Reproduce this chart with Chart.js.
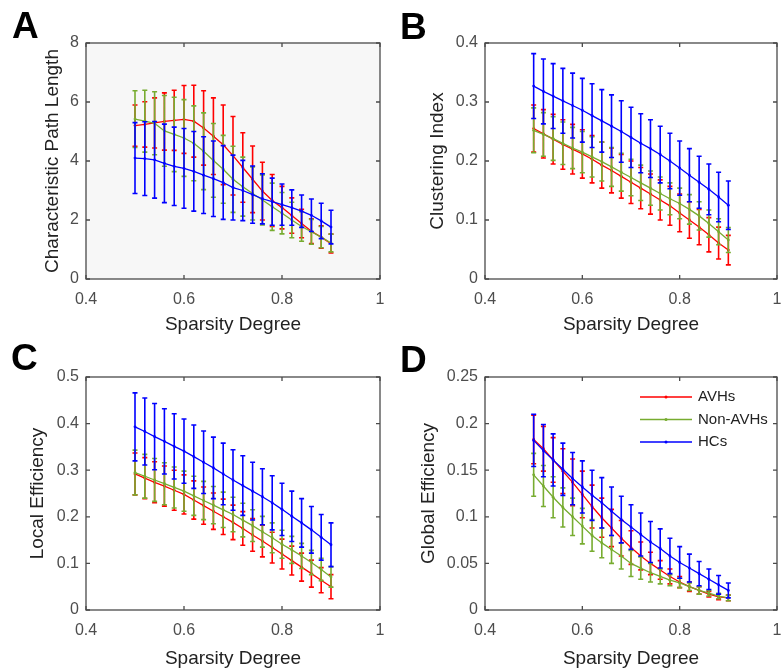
<!DOCTYPE html>
<html>
<head>
<meta charset="utf-8">
<script src="https://cdn.jsdelivr.net/npm/chart.js@4.4.1/dist/chart.umd.min.js"></script>
<style>
    body { margin: 0; background: #fff; }
    #wrap { position: relative; width: 781px; height: 668px; overflow: hidden; }
    canvas { position: absolute; }
    .letter { position: absolute; font: bold 37px "Liberation Sans", Arial, sans-serif; line-height: 1; color: #000; }
</style>
</head>
<body>
<div id="wrap">
    <canvas id="panelA" width="390" height="334" style="left:0;top:0"></canvas>
    <canvas id="panelB" width="391" height="334" style="left:390px;top:0"></canvas>
    <canvas id="panelC" width="390" height="334" style="left:0;top:334px"></canvas>
    <canvas id="panelD" width="391" height="334" style="left:390px;top:334px"></canvas>
    <div class="letter" style="left:12px;top:7px">A</div>
    <div class="letter" style="left:400px;top:8px">B</div>
    <div class="letter" style="left:11px;top:339px">C</div>
    <div class="letter" style="left:400px;top:341px">D</div>
</div>
<script>
const sparsity = [0.5, 0.52, 0.54, 0.56, 0.58, 0.6, 0.62, 0.64, 0.66, 0.68, 0.7, 0.72, 0.74, 0.76, 0.78, 0.8, 0.82, 0.84, 0.86, 0.88, 0.9];
const groupNames = ["AVHs", "Non-AVHs", "HCs"];
const xTicks = [0.4, 0.6, 0.8, 1];

// A - characteristic path length
const pathAvh = [5.2, 5.24, 5.29, 5.34, 5.38, 5.41, 5.35, 5.12, 4.84, 4.55, 4.18, 3.78, 3.38, 2.98, 2.66, 2.42, 2.15, 1.88, 1.62, 1.42, 1.2];
const pathAvhSd = [0.7, 0.77, 0.85, 0.97, 1.02, 1.15, 1.22, 1.26, 1.3, 1.35, 1.33, 1.18, 1.13, 0.98, 0.88, 0.72, 0.6, 0.48, 0.42, 0.38, 0.32];
const pathNon = [5.42, 5.35, 5.28, 5.02, 4.9, 4.78, 4.6, 4.33, 4.02, 3.72, 3.38, 3.13, 2.9, 2.68, 2.45, 2.23, 2.0, 1.78, 1.6, 1.42, 1.22];
const pathNonSd = [0.96, 1.05, 1.07, 1.2, 1.26, 1.3, 1.27, 1.3, 1.25, 1.15, 1.12, 1.0, 0.9, 0.85, 0.8, 0.7, 0.6, 0.5, 0.42, 0.36, 0.3];
const pathHc = [4.1, 4.08, 4.04, 3.92, 3.82, 3.75, 3.65, 3.52, 3.4, 3.27, 3.1, 3.0, 2.86, 2.72, 2.62, 2.52, 2.42, 2.3, 2.16, 1.97, 1.76];
const pathHcSd = [1.2, 1.25, 1.3, 1.33, 1.33, 1.35, 1.35, 1.3, 1.28, 1.25, 1.1, 1.02, 0.97, 0.85, 0.8, 0.7, 0.6, 0.55, 0.55, 0.6, 0.57];
const pathTicks = [0, 2, 4, 6, 8];

// B - clustering index
const clustAvh = [0.255, 0.246, 0.237, 0.228, 0.22, 0.212, 0.203, 0.193, 0.184, 0.174, 0.164, 0.154, 0.144, 0.134, 0.124, 0.112, 0.1, 0.088, 0.075, 0.061, 0.049];
const clustAvhSd = [0.04, 0.041, 0.042, 0.042, 0.042, 0.041, 0.04, 0.039, 0.038, 0.037, 0.036, 0.035, 0.034, 0.034, 0.033, 0.032, 0.031, 0.03, 0.029, 0.027, 0.025];
const clustNon = [0.252, 0.245, 0.238, 0.23, 0.222, 0.215, 0.207, 0.199, 0.19, 0.181, 0.172, 0.163, 0.154, 0.145, 0.136, 0.128, 0.118, 0.107, 0.094, 0.08, 0.066];
const clustNonSd = [0.038, 0.037, 0.037, 0.036, 0.035, 0.035, 0.034, 0.033, 0.033, 0.032, 0.031, 0.03, 0.029, 0.028, 0.027, 0.026, 0.025, 0.024, 0.023, 0.022, 0.021];
const clustHc = [0.327, 0.318, 0.31, 0.302, 0.294, 0.286, 0.277, 0.268, 0.259, 0.25, 0.24, 0.23, 0.221, 0.211, 0.2, 0.188, 0.176, 0.164, 0.152, 0.139, 0.125];
const clustHcSd = [0.055, 0.055, 0.055, 0.055, 0.055, 0.054, 0.054, 0.053, 0.053, 0.052, 0.051, 0.05, 0.049, 0.048, 0.047, 0.046, 0.045, 0.044, 0.043, 0.042, 0.041];
const clustTicks = [0, 0.1, 0.2, 0.3, 0.4];

// C - local efficiency
const localAvh = [0.292, 0.283, 0.274, 0.266, 0.257, 0.248, 0.236, 0.224, 0.212, 0.2, 0.188, 0.175, 0.161, 0.148, 0.134, 0.12, 0.106, 0.092, 0.078, 0.064, 0.05];
const localAvhSd = [0.045, 0.044, 0.044, 0.043, 0.043, 0.042, 0.041, 0.04, 0.039, 0.038, 0.037, 0.036, 0.035, 0.034, 0.033, 0.032, 0.031, 0.03, 0.029, 0.027, 0.026];
const localNon = [0.295, 0.287, 0.279, 0.271, 0.263, 0.255, 0.245, 0.235, 0.225, 0.215, 0.205, 0.193, 0.181, 0.168, 0.155, 0.141, 0.129, 0.116, 0.102, 0.087, 0.071];
const localNonSd = [0.048, 0.047, 0.046, 0.045, 0.044, 0.043, 0.042, 0.041, 0.04, 0.038, 0.037, 0.036, 0.034, 0.033, 0.032, 0.03, 0.029, 0.027, 0.026, 0.024, 0.022];
const localHc = [0.393, 0.383, 0.372, 0.362, 0.351, 0.341, 0.329, 0.317, 0.305, 0.292, 0.279, 0.267, 0.255, 0.243, 0.23, 0.216, 0.201, 0.187, 0.172, 0.156, 0.14];
const localHcSd = [0.073, 0.072, 0.071, 0.07, 0.07, 0.069, 0.068, 0.067, 0.066, 0.066, 0.065, 0.064, 0.062, 0.06, 0.058, 0.056, 0.054, 0.052, 0.05, 0.049, 0.047];
const localTicks = [0, 0.1, 0.2, 0.3, 0.4, 0.5];

// D - global efficiency
const globalAvh = [0.183, 0.173, 0.161, 0.149, 0.137, 0.124, 0.111, 0.099, 0.088, 0.077, 0.067, 0.058, 0.05, 0.043, 0.036, 0.03, 0.025, 0.021, 0.017, 0.014, 0.013];
const globalAvhSd = [0.026, 0.024, 0.024, 0.024, 0.025, 0.025, 0.023, 0.021, 0.02, 0.019, 0.018, 0.015, 0.012, 0.01, 0.008, 0.006, 0.005, 0.004, 0.003, 0.003, 0.003];
const globalNon = [0.145, 0.133, 0.121, 0.11, 0.1, 0.09, 0.08, 0.072, 0.065, 0.058, 0.05, 0.045, 0.04, 0.036, 0.032, 0.029, 0.025, 0.021, 0.018, 0.015, 0.013];
const globalNonSd = [0.023, 0.022, 0.022, 0.021, 0.02, 0.019, 0.017, 0.016, 0.015, 0.014, 0.014, 0.012, 0.01, 0.008, 0.006, 0.005, 0.004, 0.004, 0.003, 0.003, 0.003];
const globalHc = [0.182, 0.171, 0.161, 0.151, 0.141, 0.132, 0.123, 0.115, 0.106, 0.097, 0.089, 0.081, 0.073, 0.066, 0.058, 0.051, 0.045, 0.039, 0.033, 0.027, 0.021];
const globalHcSd = [0.028, 0.028, 0.028, 0.028, 0.028, 0.028, 0.027, 0.027, 0.026, 0.025, 0.024, 0.023, 0.022, 0.021, 0.019, 0.017, 0.015, 0.013, 0.011, 0.01, 0.008];
const globalTicks = [0, 0.05, 0.1, 0.15, 0.2, 0.25];

const colors = ["rgb(255, 0, 0)", "rgb(119, 172, 48)", "rgb(0, 0, 255)"];
const fontFamily = "'Liberation Sans', Arial, sans-serif";

// box round the plot with inward ticks on all four sides (matlab style)
const framePlugin = {
    id: "frame",
    beforeDraw(chart, args, opts) {
        if (!opts.fill) return;
        const a = chart.chartArea;
        chart.ctx.save();
        chart.ctx.fillStyle = opts.fill;
        chart.ctx.fillRect(a.left, a.top, a.right - a.left, a.bottom - a.top);
        chart.ctx.restore();
    },
    afterDatasetsDraw(chart) {
        const ctx = chart.ctx;
        const a = chart.chartArea;
        const tl = 4;
        ctx.save();
        ctx.strokeStyle = "#4a4a4a";
        ctx.lineWidth = 1.3;
        ctx.strokeRect(a.left, a.top, a.right - a.left, a.bottom - a.top);
        ctx.beginPath();
        for (let t of chart.scales.x.ticks) {
            let px = chart.scales.x.getPixelForValue(t.value);
            ctx.moveTo(px, a.bottom); ctx.lineTo(px, a.bottom - tl);
            ctx.moveTo(px, a.top); ctx.lineTo(px, a.top + tl);
        }
        for (let t of chart.scales.y.ticks) {
            let py = chart.scales.y.getPixelForValue(t.value);
            ctx.moveTo(a.left, py); ctx.lineTo(a.left + tl, py);
            ctx.moveTo(a.right, py); ctx.lineTo(a.right - tl, py);
        }
        ctx.stroke();
        ctx.restore();
    }
};

// error bars drawn right after their own line so the layering follows dataset order
const errorBarPlugin = {
    id: "errorBars",
    afterDatasetDraw(chart, args) {
        const ds = chart.data.datasets[args.index];
        if (!ds.errors) return;
        const ctx = chart.ctx;
        const yScale = chart.scales.y;
        ctx.save();
        ctx.strokeStyle = ds.borderColor;
        ctx.lineWidth = 1.6;
        ctx.beginPath();
        args.meta.data.forEach((pt, i) => {
            let v = ds.data[i].y;
            let top = yScale.getPixelForValue(v + ds.errors[i]);
            let bottom = yScale.getPixelForValue(v - ds.errors[i]);
            ctx.moveTo(pt.x, top); ctx.lineTo(pt.x, bottom);
            ctx.moveTo(pt.x - 2.5, top); ctx.lineTo(pt.x + 2.5, top);
            ctx.moveTo(pt.x - 2.5, bottom); ctx.lineTo(pt.x + 2.5, bottom);
        });
        ctx.stroke();
        ctx.restore();
    }
};

// legend sitting inside the axes (top right), like matlab's northeast legend
const insideLegendPlugin = {
    id: "insideLegend",
    afterDraw(chart, args, opts) {
        if (!opts.show) return;
        const ctx = chart.ctx;
        ctx.save();
        ctx.font = "15px " + fontFamily;
        ctx.textBaseline = "middle";
        groupNames.forEach((name, i) => {
            let y = opts.top + i * opts.gap;
            ctx.strokeStyle = colors[i];
            ctx.lineWidth = 1.5;
            ctx.beginPath();
            ctx.moveTo(opts.left, y);
            ctx.lineTo(opts.left + 52, y);
            ctx.stroke();
            ctx.fillStyle = colors[i];
            ctx.beginPath();
            ctx.arc(opts.left + 26, y, 1.5, 0, Math.PI * 2);
            ctx.fill();
            ctx.fillStyle = "#222";
            ctx.fillText(name, opts.left + 58, y);
        });
        ctx.restore();
    }
};

function makePanel(canvasId, series, errs, yTicks, yTitle, cfg) {
    let datasets = [];
    for (let g = 0; g < 3; g++) {
        datasets.push({
            label: groupNames[g],
            data: sparsity.map((x, i) => ({ x: x, y: series[g][i] })),
            errors: errs[g],
            borderColor: colors[g],
            backgroundColor: colors[g],
            borderWidth: 1.3,
            pointRadius: 1.4,
            pointBorderWidth: 0,
            tension: 0,
            fill: false,
            order: 3 - g,
        });
    }

    new Chart(document.getElementById(canvasId), {
        type: "line",
        data: { datasets: datasets },
        plugins: [framePlugin, errorBarPlugin, insideLegendPlugin],
        options: {
            responsive: false,
            animation: false,
            devicePixelRatio: 1,
            layout: { padding: { top: 43, right: cfg.right, left: 0, bottom: 0 } },
            plugins: {
                legend: { display: false },
                tooltip: { enabled: false },
                frame: { fill: cfg.fill },
                insideLegend: cfg.legend || { show: false },
            },
            scales: {
                x: {
                    type: "linear",
                    min: 0.4,
                    max: 1,
                    grid: { display: false },
                    border: { display: false },
                    afterBuildTicks: (s) => { s.ticks = xTicks.map((v) => ({ value: v })); },
                    afterFit: (s) => { s.height = cfg.xHeight; s.paddingLeft = 0; s.paddingRight = 0; },
                    ticks: {
                        callback: (v) => String(v),
                        maxRotation: 0,
                        padding: 3,
                        color: "#4d4d4d",
                        font: { family: fontFamily, size: 16 },
                    },
                    title: {
                        display: true,
                        text: "Sparsity Degree",
                        color: "#222",
                        font: { family: fontFamily, size: 19, lineHeight: 1 },
                        padding: { top: 0, bottom: 0 },
                    },
                },
                y: {
                    type: "linear",
                    min: yTicks[0],
                    max: yTicks[yTicks.length - 1],
                    grid: { display: false, drawTicks: false },
                    border: { display: false },
                    afterBuildTicks: (s) => { s.ticks = yTicks.map((v) => ({ value: v })); },
                    afterFit: (s) => { s.width = cfg.yWidth; s.paddingTop = 0; s.paddingBottom = 0; },
                    ticks: {
                        callback: (v) => String(v),
                        padding: 7,
                        color: "#4d4d4d",
                        font: { family: fontFamily, size: 16 },
                    },
                    title: {
                        display: true,
                        text: yTitle,
                        color: "#222",
                        font: { family: fontFamily, size: 19, lineHeight: 1 },
                        padding: { top: cfg.titlePad, bottom: 0 },
                    },
                },
            },
        },
    });
}

document.addEventListener("DOMContentLoaded", function () {
    makePanel("panelA", [pathAvh, pathNon, pathHc], [pathAvhSd, pathNonSd, pathHcSd], pathTicks,
        "Characteristic Path Length", { right: 10, yWidth: 86, xHeight: 55, titlePad: 43, fill: "#f7f7f7" });
    makePanel("panelB", [clustAvh, clustNon, clustHc], [clustAvhSd, clustNonSd, clustHcSd], clustTicks,
        "Clustering Index", { right: 3, yWidth: 95, xHeight: 55, titlePad: 38 });
    makePanel("panelC", [localAvh, localNon, localHc], [localAvhSd, localNonSd, localHcSd], localTicks,
        "Local Efficiency", { right: 10, yWidth: 86, xHeight: 58, titlePad: 28.5 });
    makePanel("panelD", [globalAvh, globalNon, globalHc], [globalAvhSd, globalNonSd, globalHcSd], globalTicks,
        "Global Efficiency", { right: 3, yWidth: 95, xHeight: 58, titlePad: 29.5,
            legend: { show: true, left: 250, top: 63, gap: 22.5 } });
});
</script>
</body>
</html>
